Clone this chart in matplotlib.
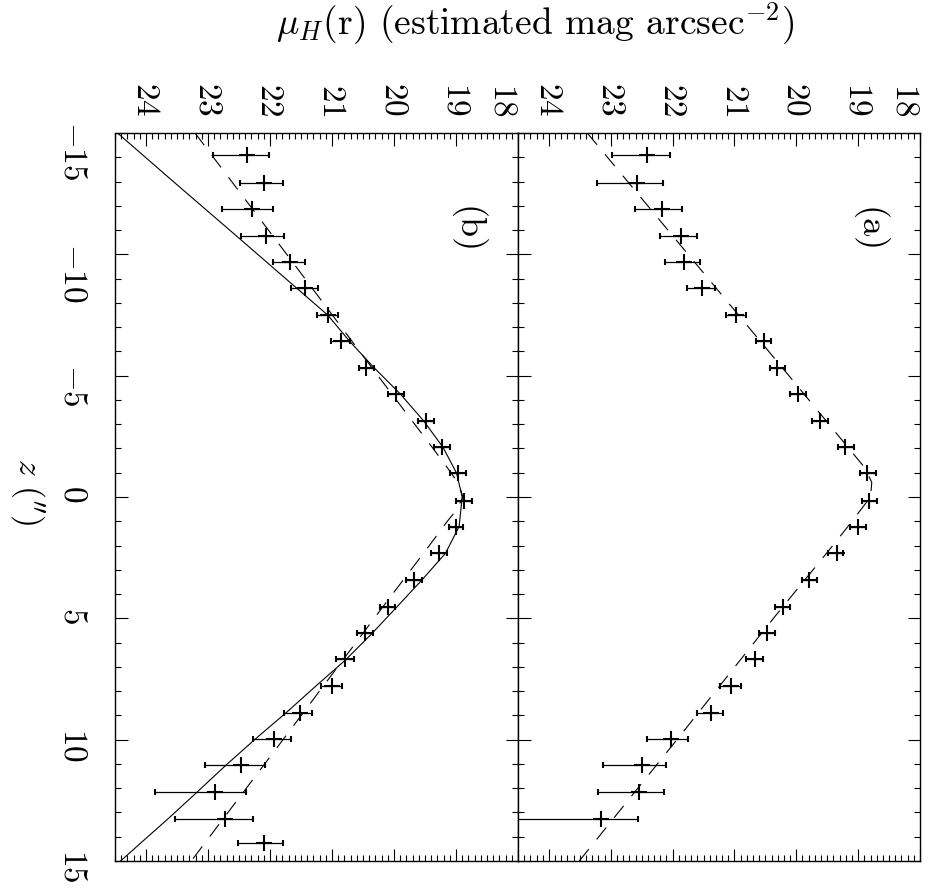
import matplotlib
matplotlib.use("Agg")
import matplotlib.pyplot as plt
from matplotlib.ticker import MultipleLocator

plt.rcParams["font.family"] = "serif"
plt.rcParams["font.serif"] = ["cmr10", "DejaVu Serif"]
plt.rcParams["mathtext.fontset"] = "cm"
plt.rcParams["axes.unicode_minus"] = False
plt.rcParams["lines.scale_dashes"] = False

# Offsets along the disk (arcsec)
z_a = [-14.08, -12.95, -11.86, -10.77, -9.70, -8.60, -7.50, -6.43, -5.30, -4.25,
       -3.13, -2.05, -0.98, 0.15, 1.22, 2.32, 3.42, 4.52, 5.61, 6.69, 7.79, 8.89,
       9.98, 11.05, 12.17, 13.25]
z_b = z_a + [14.27]

# Panel (a): surface brightness with asymmetric errors (bright side, faint side)
mu_a = [22.41, 22.57, 22.17, 21.87, 21.82, 21.52, 20.97, 20.53, 20.31, 19.97,
        19.61, 19.21, 18.85, 18.83, 19.00, 19.35, 19.79, 20.22, 20.48, 20.66,
        21.05, 21.38, 22.02, 22.50, 22.54, 23.15]
errb_a = [0.36, 0.41, 0.32, 0.26, 0.26, 0.21, 0.16, 0.12, 0.13, 0.13,
          0.13, 0.15, 0.14, 0.14, 0.12, 0.11, 0.12, 0.12, 0.13, 0.12,
          0.15, 0.19, 0.27, 0.40, 0.40, 0.59]
errf_a = [0.57, 0.66, 0.44, 0.33, 0.31, 0.24, 0.16, 0.12, 0.12, 0.13,
          0.13, 0.11, 0.12, 0.11, 0.13, 0.13, 0.12, 0.13, 0.13, 0.15,
          0.19, 0.22, 0.40, 0.62, 0.66, 2.00]

# Panel (b)
mu_b = [22.375, 22.09, 22.29, 22.06, 21.68, 21.44, 21.07, 20.86, 20.45, 19.97,
        19.48, 19.22, 18.97, 18.87, 19.00, 19.28, 19.68, 20.10, 20.46, 20.79,
        21.00, 21.52, 21.94, 22.46, 22.89, 22.73, 22.10]
errb_b = [0.36, 0.30, 0.34, 0.28, 0.24, 0.21, 0.16, 0.15, 0.13, 0.13,
          0.12, 0.13, 0.13, 0.13, 0.12, 0.13, 0.13, 0.12, 0.12, 0.14,
          0.16, 0.19, 0.28, 0.38, 0.51, 0.46, 0.31]
errf_b = [0.54, 0.40, 0.48, 0.40, 0.27, 0.22, 0.17, 0.15, 0.12, 0.13,
          0.14, 0.13, 0.12, 0.13, 0.12, 0.12, 0.12, 0.12, 0.13, 0.14,
          0.17, 0.26, 0.34, 0.59, 0.96, 0.80, 0.41]

# Model profiles
z_dash_a = [-15, -10, -5, -2, -1.2, -0.6, 0, 0.6, 1.1, 2, 5, 10, 15]
mu_dash_a = [23.38, 21.75, 20.12, 19.15, 18.89, 18.78, 18.80, 18.98, 19.13, 19.41,
             20.37, 21.93, 23.51]

z_dash_b = [-15, -10, -5, -2, -1, -0.5, 0, 0.5, 1, 2, 5, 10, 15]
mu_dash_b = [23.21, 21.73, 20.26, 19.37, 19.08, 18.95, 18.89, 18.98, 19.14, 19.43,
             20.32, 21.79, 23.27]

z_solid_b = [-15, -13, -10.8, -7.5, -6.43, -5.35, -4.25, -3.13, -2.05, -0.98, 0,
             1.22, 2.32, 3.42, 4.52, 5.61, 6.71, 7.79, 8.89, 9.98, 11.05, 12.17,
             13.25, 14.27, 15]
mu_solid_b = [24.46, 23.56, 22.56, 21.07, 20.72, 20.33, 19.90, 19.52, 19.21, 18.99,
              18.90, 18.95, 19.17, 19.55, 19.95, 20.35, 20.78, 21.26, 21.74, 22.24,
              22.71, 23.18, 23.64, 24.09, 24.41]

mu_ticks = [24, 23, 22, 21, 20, 19, 18]
z_ticks = [-15, -10, -5, 0, 5, 10, 15]

W, H = 931, 888
fig = plt.figure(figsize=(W / 100, H / 100), dpi=100)

def px_axes(x0, x1, y0, y1):
    return fig.add_axes([x0 / W, 1 - y1 / H, (x1 - x0) / W, (y1 - y0) / H])

ax_b = px_axes(115, 518, 133, 861)
ax_a = px_axes(518, 920, 133, 861)

dash = (0, (11, 9))
for ax, z, mu, eb, ef in [(ax_a, z_a, mu_a, errb_a, errf_a),
                          (ax_b, z_b, mu_b, errb_b, errf_b)]:
    ax.errorbar(mu, z, xerr=[eb, ef], fmt="+", color="black", ms=12, mew=1.5,
                elinewidth=0.9, capsize=2.5, capthick=1.1, zorder=3)

ax_a.plot(mu_dash_a, z_dash_a, color="black", lw=0.8, ls=dash)
ax_b.plot(mu_dash_b, z_dash_b, color="black", lw=0.8, ls=dash)
ax_b.plot(mu_solid_b, z_solid_b, color="black", lw=0.8)

for ax in (ax_a, ax_b):
    ax.set_xlim(24.5, 18)
    ax.set_ylim(15, -15)
    ax.set_xticks(mu_ticks)
    ax.set_xticklabels([f"${t}$" for t in mu_ticks], rotation=-90)
    ax.xaxis.set_minor_locator(MultipleLocator(0.1))
    ax.set_yticks(z_ticks)
    ax.set_yticklabels([f"${t}$" for t in z_ticks], rotation=-90)
    ax.yaxis.set_minor_locator(MultipleLocator(1))
    ax.tick_params(which="both", direction="in", top=True, bottom=True,
                   left=True, right=True, labeltop=True, labelbottom=False,
                   width=0.8, colors="black")
    ax.tick_params(which="major", length=9)
    ax.tick_params(which="minor", length=4.3)
    ax.tick_params(axis="x", labelsize=24, pad=12)
    ax.tick_params(axis="y", labelsize=24, pad=20)
    for s in ax.spines.values():
        s.set_linewidth(1.0)
    # the label at the panel's bright end sits just inside its tick
    ax.get_xticklabels()[-1].set_horizontalalignment("right")

ax_a.tick_params(labelleft=False)

ax_a.text(0.873, 0.867, "(a)", transform=ax_a.transAxes, rotation=-90,
          fontsize=26, ha="center", va="center")
ax_b.text(0.871, 0.867, "(b)", transform=ax_b.transAxes, rotation=-90,
          fontsize=26, ha="center", va="center")

fig.text(535 / W, 1 - 24 / H, r"$\mu_H$(r) (estimated mag arcsec$^{-2}$)",
         fontsize=27, ha="center", va="center")
fig.text(28 / W, 1 - 492 / H, r"$z$ ($^{\prime\prime}$)", fontsize=24,
         rotation=-90, ha="center", va="center")

fig.savefig("out.png", dpi=100)
